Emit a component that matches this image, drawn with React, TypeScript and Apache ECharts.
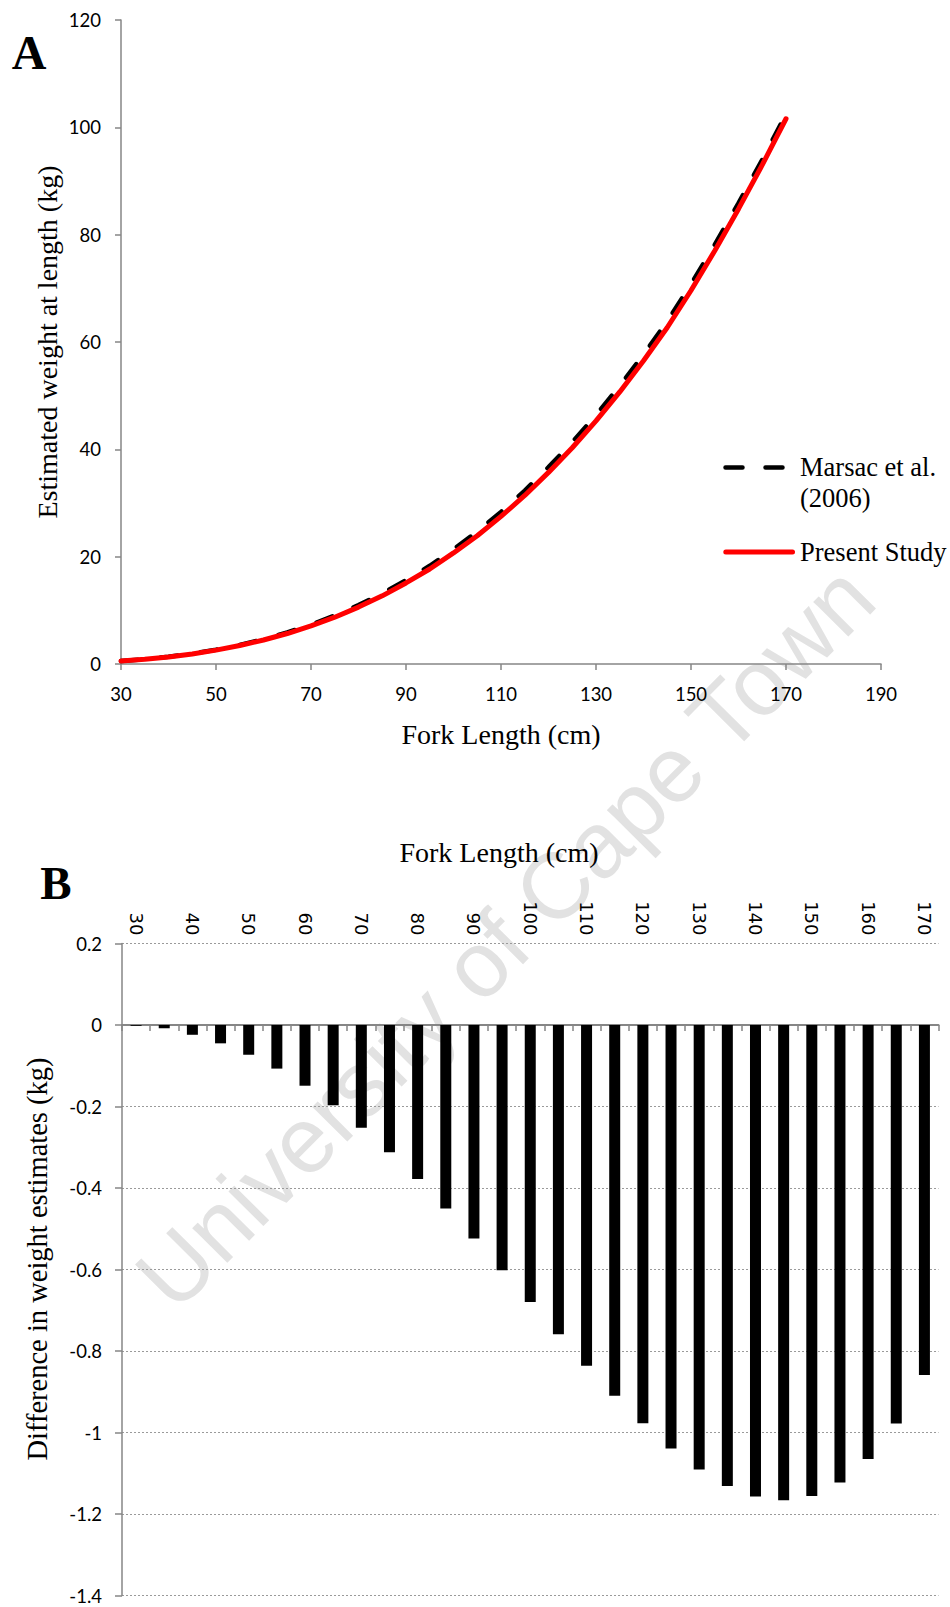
import React, { useEffect, useRef } from "react";
import * as echarts from "echarts";

// Fork length (cm)
const lengths = [30, 35, 40, 45, 50, 55, 60, 65, 70, 75, 80, 85, 90, 95, 100, 105, 110, 115, 120, 125, 130, 135, 140, 145, 150, 155, 160, 165, 170];

// Panel A: estimated weight at length (kg)
const presentStudy = [0.55, 0.88, 1.32, 1.88, 2.58, 3.44, 4.47, 5.68, 7.09, 8.72, 10.6, 12.7, 15.1, 17.7, 20.7, 23.9, 27.5, 31.4, 35.7, 40.3, 45.3, 50.7, 56.5, 62.7, 69.6, 77.0, 84.8, 93.0, 101.6];
const marsac2006 = [0.55, 0.89, 1.34, 1.92, 2.65, 3.55, 4.62, 5.88, 7.34, 9.03, 10.98, 13.15, 15.62, 18.3, 21.38, 24.66, 28.34, 32.31, 36.68, 41.34, 46.39, 51.83, 57.66, 63.87, 70.76, 78.12, 85.87, 93.98, 102.46];

// Panel B: difference in weight estimates (kg)
const weightDifference = [-0.002, -0.008, -0.024, -0.045, -0.073, -0.107, -0.149, -0.197, -0.252, -0.312, -0.378, -0.45, -0.524, -0.602, -0.68, -0.759, -0.836, -0.91, -0.977, -1.039, -1.091, -1.131, -1.157, -1.166, -1.156, -1.123, -1.065, -0.978, -0.859];

const categoryLabels = lengths.map((l) => String(l));

const AXIS_GRAY = "#868686";
const SERIF = '"Liberation Serif", "Times New Roman", serif';
const SANS_TICK = 'Lato, "Open Sans", sans-serif';
const TICK_SIZE = 18.5;

function txt(text: string, x: number, y: number, size: number, opts: any = {}) {
  return {
    type: "text",
    x,
    y,
    rotation: opts.rotation || 0,
    z: opts.z ?? 10,
    silent: true,
    style: {
      text,
      x: 0,
      y: 0,
      fontSize: size,
      fontFamily: opts.family || SERIF,
      fontWeight: opts.weight || "normal",
      fill: opts.fill || "#000",
      align: opts.align || "center",
      textAlign: opts.align || "center",
      verticalAlign: "middle",
      textVerticalAlign: "middle",
    },
  };
}

export default function App() {
  const ref = useRef<HTMLDivElement>(null);

  useEffect(() => {
    if (!ref.current) return;
    const chart = echarts.init(ref.current, undefined, { renderer: "svg" });

    const option: any = {
      animation: false,
      backgroundColor: "#ffffff",
      grid: [
        { left: 121, top: 20, width: 760, height: 644, outerBoundsMode: "none" },
        { left: 122, top: 943.5, width: 816.5, height: 652, outerBoundsMode: "none" },
      ],
      xAxis: [
        {
          type: "value",
          gridIndex: 0,
          min: 30,
          max: 190,
          interval: 20,
          splitLine: { show: false },
          axisLine: { show: true, onZero: false, lineStyle: { color: AXIS_GRAY, width: 1.5 } },
          axisTick: { show: true, length: 6, lineStyle: { color: AXIS_GRAY, width: 1.5 } },
          axisLabel: { color: "#000", fontSize: TICK_SIZE, fontFamily: SANS_TICK, margin: 21, lineHeight: 18 },
        },
        {
          type: "category",
          gridIndex: 1,
          position: "top",
          data: categoryLabels,
          axisLine: { show: false, onZero: false },
          axisTick: { show: false },
          axisLabel: {
            interval: 1,
            rotate: 90,
            margin: 8,
            color: "#000",
            fontSize: 18,
            fontFamily: '"DejaVu Sans", sans-serif',
          },
          splitLine: { show: false },
        },
        {
          type: "category",
          gridIndex: 1,
          position: "bottom",
          data: categoryLabels,
          axisLine: { show: true, onZero: true, lineStyle: { color: AXIS_GRAY, width: 2 } },
          axisTick: { show: true, interval: 0, length: 6, lineStyle: { color: AXIS_GRAY, width: 1.5 } },
          axisLabel: { show: false },
          splitLine: { show: false },
        },
      ],
      yAxis: [
        {
          type: "value",
          gridIndex: 0,
          min: 0,
          max: 120,
          interval: 20,
          splitLine: { show: false },
          axisLine: { show: true, onZero: false, lineStyle: { color: AXIS_GRAY, width: 1.5 } },
          axisTick: { show: true, length: 6, lineStyle: { color: AXIS_GRAY, width: 1.5 } },
          axisLabel: { color: "#000", fontSize: TICK_SIZE, fontFamily: SANS_TICK, margin: 20 },
        },
        {
          type: "value",
          gridIndex: 1,
          min: -1.4,
          max: 0.2,
          interval: 0.2,
          axisLine: { show: true, onZero: false, lineStyle: { color: AXIS_GRAY, width: 1.5 } },
          axisTick: { show: true, length: 7, lineStyle: { color: AXIS_GRAY, width: 1.5 } },
          axisLabel: {
            color: "#000",
            fontSize: TICK_SIZE,
            fontFamily: SANS_TICK,
            margin: 20,
            formatter: (v: number) => String(Math.round(v * 10) / 10),
          },
          splitLine: { show: true, lineStyle: { color: "#9a9a9a", width: 1, type: [2, 2] } },
        },
      ],
      series: [
        {
          name: "Marsac et al. (2006)",
          type: "line",
          xAxisIndex: 0,
          yAxisIndex: 0,
          data: lengths.map((l, i) => [l, marsac2006[i]]),
          showSymbol: false,
          symbol: "none",
          lineStyle: { color: "#000", width: 4.5, type: [17, 23], cap: "round" },
          z: 3,
        },
        {
          name: "Present Study",
          type: "line",
          xAxisIndex: 0,
          yAxisIndex: 0,
          data: lengths.map((l, i) => [l, presentStudy[i]]),
          showSymbol: false,
          symbol: "none",
          lineStyle: { color: "#ff0000", width: 5, cap: "round" },
          z: 4,
        },
        {
          name: "Difference",
          type: "bar",
          xAxisIndex: 1,
          yAxisIndex: 1,
          data: weightDifference,
          barWidth: 11,
          itemStyle: { color: "#000" },
          z: 3,
        },
      ],
      graphic: [
        // watermark
        {
          type: "text",
          x: 505,
          y: 937,
          rotation: 0.79,
          z: -10,
          silent: true,
          style: {
            text: "University of Cape Town",
            x: 0,
            y: 0,
            fontSize: 93,
            fontFamily: '"Liberation Sans", Arial, sans-serif',
            fill: "#e2e2e2",
            align: "center",
            textAlign: "center",
            verticalAlign: "middle",
            textVerticalAlign: "middle",
          },
        },
        txt("A", 29, 52, 48, { weight: "bold" }),
        txt("B", 56, 883, 47, { weight: "bold" }),
        txt("Fork Length (cm)", 501, 734, 28),
        txt("Estimated weight at length (kg)", 47, 342, 28, { rotation: Math.PI / 2 }),
        txt("Fork Length (cm)", 499, 852, 28),
        txt("Difference in weight estimates (kg)", 37, 1259, 28.5, { rotation: Math.PI / 2 }),
        // legend
        {
          type: "line",
          silent: true,
          z: 10,
          shape: { x1: 725.5, y1: 467.5, x2: 782.5, y2: 467.5 },
          style: { stroke: "#000", lineWidth: 4.5, lineDash: [17, 23], lineCap: "round" },
        },
        {
          type: "line",
          silent: true,
          z: 10,
          shape: { x1: 725.8, y1: 552, x2: 792.5, y2: 552 },
          style: { stroke: "#ff0000", lineWidth: 5, lineCap: "round" },
        },
        txt("Marsac et al.", 800, 467, 26.5, { align: "left" }),
        txt("(2006)", 800, 497.5, 26.5, { align: "left" }),
        txt("Present Study", 800, 551.5, 26.5, { align: "left" }),
      ],
    };

    chart.setOption(option);
    return () => {
      chart.dispose();
    };
  }, []);

  return (
    <div
      ref={ref}
      style={{ position: "absolute", left: 0, top: 0, width: 950, height: 1607, background: "#fff" }}
    />
  );
}
